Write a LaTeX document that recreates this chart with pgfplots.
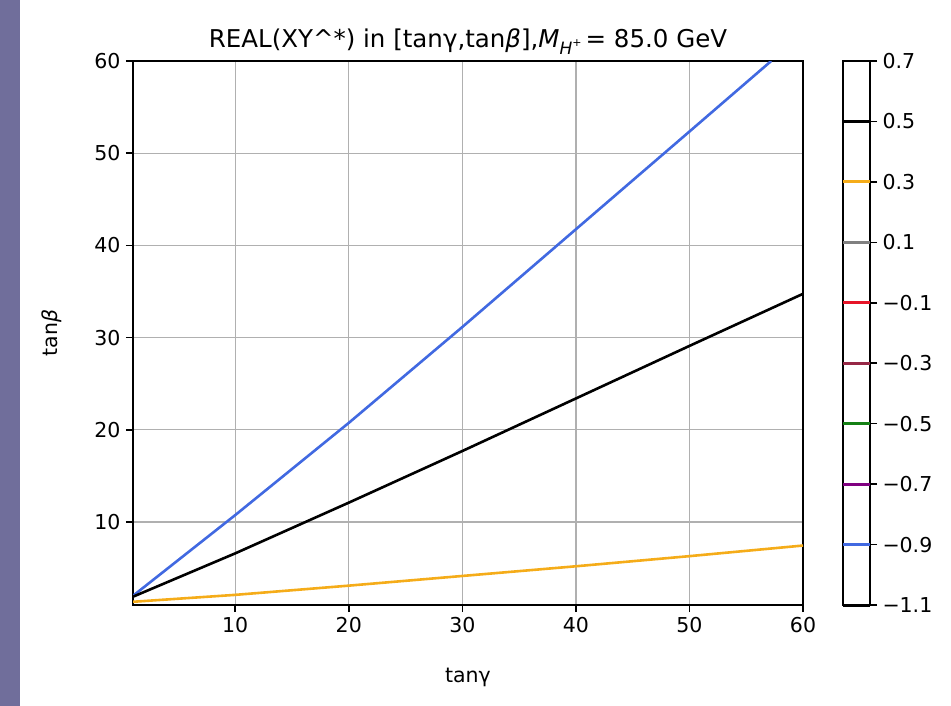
\documentclass[border=0pt]{standalone}
\usepackage{pgfplots}
\pgfplotsset{compat=1.18}
\usepackage{fontspec}
\setmainfont{DejaVu Sans}

\definecolor{stripcol}{RGB}{112,110,155}
\definecolor{lvlblue}{RGB}{65,105,225}
\definecolor{lvlorange}{RGB}{245,172,25}
\definecolor{lvlgray}{RGB}{128,128,128}
\definecolor{lvlred}{RGB}{230,20,40}
\definecolor{lvlmaroon}{RGB}{150,40,70}
\definecolor{lvlgreen}{RGB}{20,128,20}
\definecolor{lvlpurple}{RGB}{128,0,128}
\definecolor{gridcol}{RGB}{176,176,176}

\newcommand{\tickfont}{\fontsize{20.5bp}{24bp}\selectfont}
\newcommand{\titlefont}{\fontsize{24.5bp}{29bp}\selectfont}

\begin{document}
\begin{tikzpicture}
\path[use as bounding box] (0,0) rectangle (951bp,-706bp);
\fill[stripcol] (0,0) rectangle (20bp,-706bp);

\begin{axis}[
  at={(133bp,-605bp)}, anchor=south west,
  scale only axis, width=670bp, height=544bp,
  xmin=1, xmax=60, ymin=1, ymax=60,
  xtick={10,20,30,40,50,60}, ytick={10,20,30,40,50,60},
  grid=major, grid style={gridcol, line width=1.3bp},
  axis line style={black, line width=1.6bp},
  tick style={black, line width=1.6bp},
  tick align=outside, major tick length=7bp,
  xtick pos=bottom, ytick pos=left,
  /pgf/number format/assume math mode=true,
  ticklabel style={font=\tickfont},
  xticklabel style={yshift=-2bp},
  yticklabel style={xshift=-2bp},
]
% contour level -0.9
\addplot[lvlblue, line width=2.6bp] coordinates {
  (1,2.0) (10,10.75) (20,20.75) (30,31.15) (40,41.75) (50,52.35) (57.2,60)
};
% contour level 0.5
\addplot[black, line width=2.6bp] coordinates {
  (1,1.9) (10,6.6) (20,12.1) (30,17.7) (40,23.4) (50,29.1) (60,34.75)
};
% contour level 0.3
\addplot[lvlorange, line width=2.6bp] coordinates {
  (1,1.35) (10,2.1) (20,3.1) (30,4.15) (40,5.2) (50,6.3) (60,7.45)
};
\end{axis}

% colour bar with the contour levels
\begin{axis}[
  at={(843bp,-605bp)}, anchor=south west,
  scale only axis, width=27bp, height=544bp,
  xmin=0, xmax=1, ymin=-1.1, ymax=0.7,
  xtick=\empty,
  ytick={-1.1,-0.9,-0.7,-0.5,-0.3,-0.1,0.1,0.3,0.5,0.7},
  yticklabels={−1.1,−0.9,−0.7,−0.5,−0.3,−0.1,0.1,0.3,0.5,0.7},
  ytick pos=right, yticklabel pos=right,
  axis line style={black, line width=1.6bp},
  tick style={black, line width=1.6bp},
  tick align=outside, major tick length=7bp,
  ticklabel style={font=\tickfont},
  yticklabel style={xshift=2bp},
  clip=false,
]
\addplot[black, line width=3bp] coordinates {(0,-1.1) (1,-1.1)};
\addplot[lvlblue, line width=3bp] coordinates {(0,-0.9) (1,-0.9)};
\addplot[lvlpurple, line width=3bp] coordinates {(0,-0.7) (1,-0.7)};
\addplot[lvlgreen, line width=3bp] coordinates {(0,-0.5) (1,-0.5)};
\addplot[lvlmaroon, line width=3bp] coordinates {(0,-0.3) (1,-0.3)};
\addplot[lvlred, line width=3bp] coordinates {(0,-0.1) (1,-0.1)};
\addplot[lvlgray, line width=3bp] coordinates {(0,0.1) (1,0.1)};
\addplot[lvlorange, line width=3bp] coordinates {(0,0.3) (1,0.3)};
\addplot[black, line width=3bp] coordinates {(0,0.5) (1,0.5)};
\end{axis}

% title and axis labels
\node[anchor=base, font=\titlefont] at (468bp,-47bp)
  {REAL(XY\symbol{94}*) in [tanγ,tan\textit{β}],\textit{M}\raisebox{-0.3em}{\fontsize{17bp}{17bp}\selectfont\textit{H}\raisebox{0.45em}{\fontsize{11bp}{11bp}\selectfont +}}\,= 85.0 GeV};
\node[anchor=base, font=\tickfont] at (468bp,-682bp) {tanγ};
\node[anchor=base, rotate=90, font=\tickfont] at (57bp,-333bp) {tan\textit{β}};
\end{tikzpicture}
\end{document}
